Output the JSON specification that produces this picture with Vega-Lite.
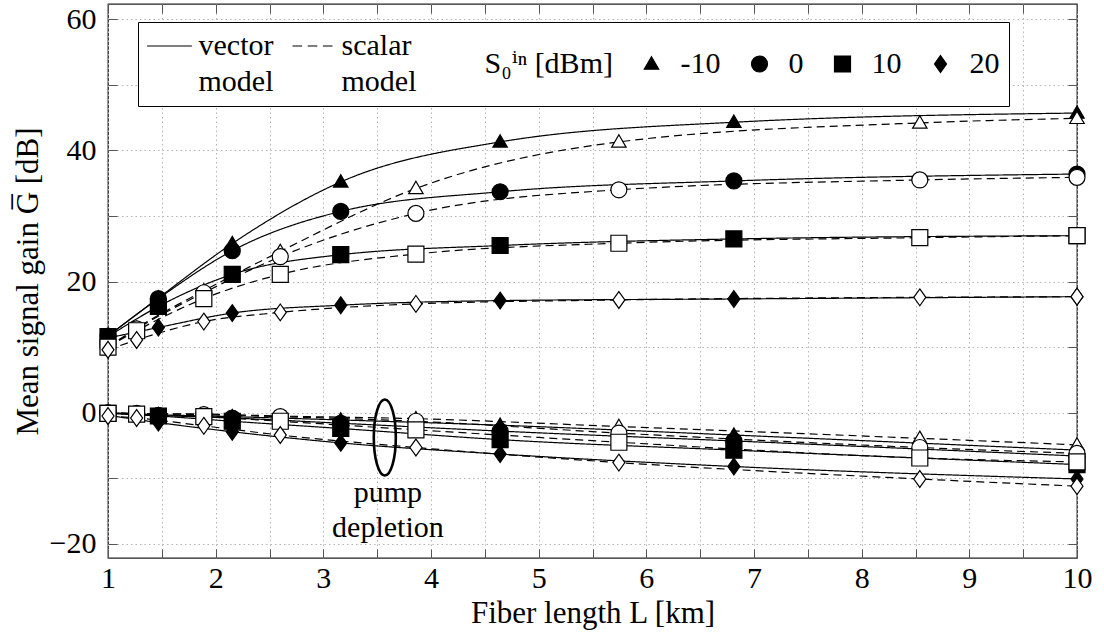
{
  "$schema": "https://vega.github.io/schema/vega-lite/v6.json",
  "width": 969,
  "height": 554,
  "autosize": {"type": "none"},
  "padding": {"left": 108, "top": 4, "right": 27, "bottom": 86},
  "background": "white",
  "config": {
    "font": "Times New Roman, Liberation Serif, DejaVu Serif, serif",
    "view": {"stroke": "#222", "strokeWidth": 1.3},
    "text": {"font": "Times New Roman, Liberation Serif, DejaVu Serif, serif"},
    "axis": {
      "labelFont": "Times New Roman, Liberation Serif, DejaVu Serif, serif", "titleFont": "Times New Roman, Liberation Serif, DejaVu Serif, serif",
      "labelFontSize": 30, "titleFontSize": 31, "labelColor": "black", "titleColor": "black",
      "titleFontWeight": "normal", "grid": true, "gridColor": "#b5b5b5", "gridDash": [1.5, 3],
      "gridWidth": 1, "tickColor": "#555", "tickSize": -9, "tickWidth": 1, "domain": false,
      "labelOverlap": false, "labelFlush": false
    },
    "legend": {"labelFont": "Times New Roman, Liberation Serif, DejaVu Serif, serif", "titleFont": "Times New Roman, Liberation Serif, DejaVu Serif, serif"}
  },
  "datasets": {
    "curves": [
      {"g":"gain","m":"vector","p":"-10","L":1,"y":11.7},{"g":"gain","m":"vector","p":"-10","L":1.468,"y":17.5},{"g":"gain","m":"vector","p":"-10","L":2.154,"y":25.8},{"g":"gain","m":"vector","p":"-10","L":3.162,"y":35.2},{"g":"gain","m":"vector","p":"-10","L":4.642,"y":41.3},{"g":"gain","m":"vector","p":"-10","L":6.813,"y":44.3},{"g":"gain","m":"vector","p":"-10","L":10,"y":45.7},
      {"g":"gain","m":"vector","p":"0","L":1,"y":11.7},{"g":"gain","m":"vector","p":"0","L":1.468,"y":17.4},{"g":"gain","m":"vector","p":"0","L":2.154,"y":24.7},{"g":"gain","m":"vector","p":"0","L":3.162,"y":30.7},{"g":"gain","m":"vector","p":"0","L":4.642,"y":33.7},{"g":"gain","m":"vector","p":"0","L":6.813,"y":35.35},{"g":"gain","m":"vector","p":"0","L":10,"y":36.4},
      {"g":"gain","m":"vector","p":"10","L":1,"y":11.6},{"g":"gain","m":"vector","p":"10","L":1.468,"y":16.2},{"g":"gain","m":"vector","p":"10","L":2.154,"y":21.1},{"g":"gain","m":"vector","p":"10","L":3.162,"y":24.1},{"g":"gain","m":"vector","p":"10","L":4.642,"y":25.5},{"g":"gain","m":"vector","p":"10","L":6.813,"y":26.5},{"g":"gain","m":"vector","p":"10","L":10,"y":27.0},
      {"g":"gain","m":"vector","p":"20","L":1,"y":11.4},{"g":"gain","m":"vector","p":"20","L":1.468,"y":13.0},{"g":"gain","m":"vector","p":"20","L":2.154,"y":15.2},{"g":"gain","m":"vector","p":"20","L":3.162,"y":16.4},{"g":"gain","m":"vector","p":"20","L":4.642,"y":17.1},{"g":"gain","m":"vector","p":"20","L":6.813,"y":17.35},{"g":"gain","m":"vector","p":"20","L":10,"y":17.7},
      {"g":"pump","m":"vector","p":"-10","L":1,"y":0},{"g":"pump","m":"vector","p":"-10","L":1.468,"y":-0.3},{"g":"pump","m":"vector","p":"-10","L":2.154,"y":-0.6},{"g":"pump","m":"vector","p":"-10","L":3.162,"y":-1.1},{"g":"pump","m":"vector","p":"-10","L":4.642,"y":-1.9},{"g":"pump","m":"vector","p":"-10","L":6.813,"y":-3.4},{"g":"pump","m":"vector","p":"-10","L":10,"y":-5.7},
      {"g":"pump","m":"vector","p":"0","L":1,"y":0},{"g":"pump","m":"vector","p":"0","L":1.468,"y":-0.4},{"g":"pump","m":"vector","p":"0","L":2.154,"y":-0.8},{"g":"pump","m":"vector","p":"0","L":3.162,"y":-1.6},{"g":"pump","m":"vector","p":"0","L":4.642,"y":-2.8},{"g":"pump","m":"vector","p":"0","L":6.813,"y":-4.3},{"g":"pump","m":"vector","p":"0","L":10,"y":-6.6},
      {"g":"pump","m":"vector","p":"10","L":1,"y":-0.1},{"g":"pump","m":"vector","p":"10","L":1.468,"y":-0.5},{"g":"pump","m":"vector","p":"10","L":2.154,"y":-1.3},{"g":"pump","m":"vector","p":"10","L":3.162,"y":-2.4},{"g":"pump","m":"vector","p":"10","L":4.642,"y":-4.1},{"g":"pump","m":"vector","p":"10","L":6.813,"y":-5.7},{"g":"pump","m":"vector","p":"10","L":10,"y":-7.9},
      {"g":"pump","m":"vector","p":"20","L":1,"y":-0.4},{"g":"pump","m":"vector","p":"20","L":1.468,"y":-1.5},{"g":"pump","m":"vector","p":"20","L":2.154,"y":-2.9},{"g":"pump","m":"vector","p":"20","L":3.162,"y":-4.6},{"g":"pump","m":"vector","p":"20","L":4.642,"y":-6.3},{"g":"pump","m":"vector","p":"20","L":6.813,"y":-8.2},{"g":"pump","m":"vector","p":"20","L":10,"y":-10.1},
      {"g":"gain","m":"scalar","p":"-10","L":1,"y":10.0},{"g":"gain","m":"scalar","p":"-10","L":1.266,"y":12.9},{"g":"gain","m":"scalar","p":"-10","L":1.89,"y":18.6},{"g":"gain","m":"scalar","p":"-10","L":2.6,"y":24.6},{"g":"gain","m":"scalar","p":"-10","L":3.86,"y":34.2},{"g":"gain","m":"scalar","p":"-10","L":5.745,"y":41.3},{"g":"gain","m":"scalar","p":"-10","L":8.54,"y":44.2},{"g":"gain","m":"scalar","p":"-10","L":10,"y":44.9},
      {"g":"gain","m":"scalar","p":"0","L":1,"y":10.0},{"g":"gain","m":"scalar","p":"0","L":1.266,"y":12.8},{"g":"gain","m":"scalar","p":"0","L":1.89,"y":18.3},{"g":"gain","m":"scalar","p":"0","L":2.6,"y":23.8},{"g":"gain","m":"scalar","p":"0","L":3.86,"y":30.4},{"g":"gain","m":"scalar","p":"0","L":5.745,"y":34.0},{"g":"gain","m":"scalar","p":"0","L":8.54,"y":35.5},{"g":"gain","m":"scalar","p":"0","L":10,"y":35.9},
      {"g":"gain","m":"scalar","p":"10","L":1,"y":10.0},{"g":"gain","m":"scalar","p":"10","L":1.266,"y":12.5},{"g":"gain","m":"scalar","p":"10","L":1.89,"y":17.4},{"g":"gain","m":"scalar","p":"10","L":2.6,"y":21.1},{"g":"gain","m":"scalar","p":"10","L":3.86,"y":24.2},{"g":"gain","m":"scalar","p":"10","L":5.745,"y":25.85},{"g":"gain","m":"scalar","p":"10","L":8.54,"y":26.7},{"g":"gain","m":"scalar","p":"10","L":10,"y":27.0},
      {"g":"gain","m":"scalar","p":"20","L":1,"y":9.6},{"g":"gain","m":"scalar","p":"20","L":1.266,"y":11.1},{"g":"gain","m":"scalar","p":"20","L":1.89,"y":13.9},{"g":"gain","m":"scalar","p":"20","L":2.6,"y":15.3},{"g":"gain","m":"scalar","p":"20","L":3.86,"y":16.6},{"g":"gain","m":"scalar","p":"20","L":5.745,"y":17.2},{"g":"gain","m":"scalar","p":"20","L":8.54,"y":17.6},{"g":"gain","m":"scalar","p":"20","L":10,"y":17.7},
      {"g":"pump","m":"scalar","p":"-10","L":1,"y":0},{"g":"pump","m":"scalar","p":"-10","L":1.266,"y":-0.1},{"g":"pump","m":"scalar","p":"-10","L":1.89,"y":-0.2},{"g":"pump","m":"scalar","p":"-10","L":2.6,"y":-0.5},{"g":"pump","m":"scalar","p":"-10","L":3.86,"y":-0.9},{"g":"pump","m":"scalar","p":"-10","L":5.745,"y":-2.1},{"g":"pump","m":"scalar","p":"-10","L":8.54,"y":-3.9},{"g":"pump","m":"scalar","p":"-10","L":10,"y":-4.9},
      {"g":"pump","m":"scalar","p":"0","L":1,"y":0},{"g":"pump","m":"scalar","p":"0","L":1.266,"y":-0.1},{"g":"pump","m":"scalar","p":"0","L":1.89,"y":-0.3},{"g":"pump","m":"scalar","p":"0","L":2.6,"y":-0.6},{"g":"pump","m":"scalar","p":"0","L":3.86,"y":-1.3},{"g":"pump","m":"scalar","p":"0","L":5.745,"y":-3.1},{"g":"pump","m":"scalar","p":"0","L":8.54,"y":-5.3},{"g":"pump","m":"scalar","p":"0","L":10,"y":-6.2},
      {"g":"pump","m":"scalar","p":"10","L":1,"y":-0.1},{"g":"pump","m":"scalar","p":"10","L":1.266,"y":-0.2},{"g":"pump","m":"scalar","p":"10","L":1.89,"y":-0.6},{"g":"pump","m":"scalar","p":"10","L":2.6,"y":-1.3},{"g":"pump","m":"scalar","p":"10","L":3.86,"y":-2.6},{"g":"pump","m":"scalar","p":"10","L":5.745,"y":-4.5},{"g":"pump","m":"scalar","p":"10","L":8.54,"y":-6.9},{"g":"pump","m":"scalar","p":"10","L":10,"y":-7.5},
      {"g":"pump","m":"scalar","p":"20","L":1,"y":-0.5},{"g":"pump","m":"scalar","p":"20","L":1.266,"y":-0.8},{"g":"pump","m":"scalar","p":"20","L":1.89,"y":-2.0},{"g":"pump","m":"scalar","p":"20","L":2.6,"y":-3.4},{"g":"pump","m":"scalar","p":"20","L":3.86,"y":-5.3},{"g":"pump","m":"scalar","p":"20","L":5.745,"y":-7.6},{"g":"pump","m":"scalar","p":"20","L":8.54,"y":-10.1},{"g":"pump","m":"scalar","p":"20","L":10,"y":-11.2}
    ],
    "anno": [{"L": 3.571, "y": -3.77}],
    "txt": [{"L": 3.6, "y": -13.6}]
  },
  "layer": [
    {
      "data": {"name": "curves"},
      "encoding": {
        "x": {
          "field": "L", "type": "quantitative",
          "scale": {"domain": [1, 10], "nice": false, "zero": false},
          "axis": {
            "orient": "bottom",
            "values": [1,1.5,2,2.5,3,3.5,4,4.5,5,5.5,6,6.5,7,7.5,8,8.5,9,9.5,10],
            "labelExpr": "datum.value % 1 === 0 ? format(datum.value, 'd') : ''",
            "title": "Fiber length L [km]", "labelPadding": 14, "titlePadding": 5
          }
        },
        "y": {
          "field": "y", "type": "quantitative",
          "scale": {"domain": [-22.15, 62.33], "nice": false, "zero": false},
          "axis": {
            "orient": "left",
            "values": [-20,-10,0,10,20,30,40,50,60],
            "labelExpr": "datum.value % 20 === 0 ? replace(datum.label, '-', '−') : ''",
            "title": "Mean signal gain G̅ [dB]", "labelPadding": 21, "titlePadding": 5
          }
        }
      },
      "layer": [
        {
          "mark": {"type": "line", "interpolate": "monotone", "stroke": "black", "strokeWidth": 1.2},
          "encoding": {
            "strokeDash": {"field": "m", "type": "nominal", "scale": {"domain": ["vector", "scalar"], "range": [[1, 0], [8, 5]]}, "legend": null},
            "detail": [{"field": "g", "type": "nominal"}, {"field": "p", "type": "nominal"}]
          }
        },
        {
          "mark": {"type": "point", "filled": true, "stroke": "black", "strokeWidth": 1.2, "opacity": 1, "size": 256},
          "encoding": {
            "fill": {"field": "m", "type": "nominal", "scale": {"domain": ["vector", "scalar"], "range": ["black", "white"]}, "legend": null},
            "shape": {
              "field": "p", "type": "nominal",
              "scale": {
                "domain": ["vector", "scalar", "S0", "-10", "0", "10", "20"],
                "range": ["M-2.8,0L2.8,0", "M-2.5,0L-1.3,0M-0.6,0L0.6,0M1.3,0L2.5,0", "M0,0Z", "M0,-0.9L0.9,0.65L-0.9,0.65Z", "circle", "square", "M0,-1.05L0.75,0L0,1.05L-0.75,0Z"]
              },
              "legend": {
                "orient": "none", "legendX": 30, "legendY": 18, "direction": "horizontal", "columns": 7,
                "title": null, "symbolSize": 256, "symbolOffset": 7.5, "labelFontSize": 30,
                "labelFont": "Times New Roman, Liberation Serif, DejaVu Serif, serif",
                "labelColor": "black", "labelOffset": 14, "labelBaseline": "middle", "labelLimit": 0,
                "columnPadding": 16, "padding": 9, "strokeColor": "black", "fillColor": "white",
                "cornerRadius": 0, "symbolFillColor": "black", "symbolStrokeColor": "black", "symbolStrokeWidth": 1.2, "symbolOpacity": 1,
                "labelExpr": "datum.value === 'vector' ? ['vector', 'model'] : datum.value === 'scalar' ? ['scalar', 'model'] : datum.value === 'S0' ? 'S₀ⁱⁿ [dBm]' : datum.label",
                "encode": {
                  "symbols": {"update": {"fill": {"value": "black"}, "stroke": {"value": "black"}, "opacity": {"value": 1}}},
                  "labels": {"update": {"lineHeight": {"value": 36}}}
                }
              }
            }
          }
        },
        {
          "data": {"name": "anno"},
          "mark": {"type": "point", "filled": false, "stroke": "black", "strokeWidth": 2.6, "opacity": 1, "size": 5776,
                   "shape": "M0,-1C0.16,-1 0.29,-0.552 0.29,0C0.29,0.552 0.16,1 0,1C-0.16,1 -0.29,0.552 -0.29,0C-0.29,-0.552 -0.16,-1 0,-1Z"}
        }
      ]
    },
    {
      "data": {"name": "txt"},
      "mark": {"type": "text", "text": ["pump", "depletion"], "fontSize": 30, "font": "Times New Roman, Liberation Serif, DejaVu Serif, serif", "baseline": "alphabetic", "align": "center", "lineHeight": 35, "color": "black"},
      "encoding": {
        "x": {
          "field": "L", "type": "quantitative",
          "scale": {"domain": [1, 10], "nice": false, "zero": false},
          "axis": {"orient": "top", "values": [1,1.5,2,2.5,3,3.5,4,4.5,5,5.5,6,6.5,7,7.5,8,8.5,9,9.5,10], "labels": false, "grid": false, "title": null}
        },
        "y": {
          "field": "y", "type": "quantitative",
          "scale": {"domain": [-22.15, 62.33], "nice": false, "zero": false},
          "axis": {"orient": "right", "values": [-20,-10,0,10,20,30,40,50,60], "labels": false, "grid": false, "title": null}
        }
      }
    }
  ],
  "resolve": {"scale": {"x": "independent", "y": "independent"}}
}
